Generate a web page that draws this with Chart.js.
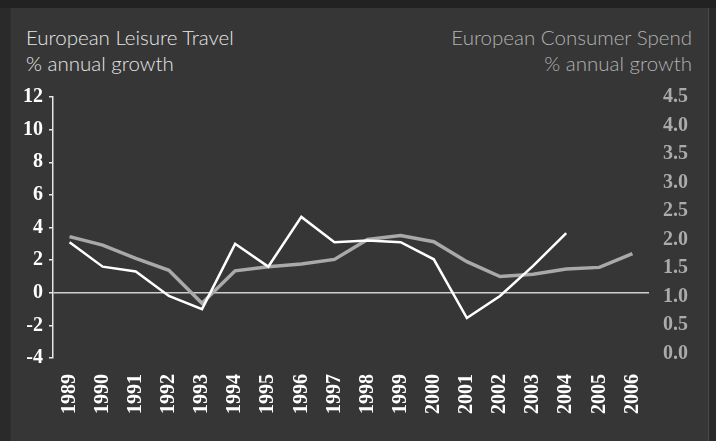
<!DOCTYPE html>
<html>
<head>
<meta charset="utf-8">
<script src="https://cdn.jsdelivr.net/npm/chart.js@4/dist/chart.umd.min.js"></script>
<style>
  html, body { margin: 0; padding: 0; }
  body { width: 716px; height: 441px; background: #2a2a2a; position: relative; overflow: hidden; }
  #topbar { position: absolute; left: 0; top: 0; width: 716px; height: 8px; background: #222222; }
  #panel { position: absolute; left: 10px; top: 8px; width: 699px; height: 433px; background: #363636; border-left: 1px solid #303030; border-right: 1px solid #4a4a4a; box-sizing: border-box; }
  .ttl { position: absolute; font-family: Lato, "Open Sans", sans-serif; font-weight: 300; font-size: 20.5px; line-height: 26px; }
  #ttlLeft { left: 26px; top: 24px; color: #e6e6e6; }
  #ttlRight { right: 24px; top: 24px; color: #b2b2b2; text-align: right; }
  #grafik { position: absolute; left: 0; top: 0; }
</style>
</head>
<body>
<div id="topbar"></div>
<div id="panel"></div>
<div class="ttl" id="ttlLeft">European Leisure Travel<br>% annual growth</div>
<div class="ttl" id="ttlRight">European Consumer Spend<br>% annual growth</div>
<canvas id="grafik" width="716" height="441"></canvas>
<script>
// ===== data =====
const years = ['1989','1990','1991','1992','1993','1994','1995','1996','1997',
               '1998','1999','2000','2001','2002','2003','2004','2005','2006'];
// European Leisure Travel, % annual growth (left axis)
const leisureTravel = [3.1, 1.6, 1.3, -0.2, -1.0, 3.0, 1.6, 4.65, 3.1,
                       3.2, 3.1, 2.05, -1.55, -0.2, 1.65, 3.65, null, null];
// European Consumer Spend, % annual growth (right axis)
const consumerSpend = [2.05, 1.9, 1.67, 1.46, 0.88, 1.45, 1.52, 1.57, 1.65,
                       2.0, 2.07, 1.96, 1.61, 1.35, 1.39, 1.48, 1.51, 1.75];
const leftTicks = [-4, -2, 0, 2, 4, 6, 8, 10, 12];
const rightTicks = [0.0, 0.5, 1.0, 1.5, 2.0, 2.5, 3.0, 3.5, 4.0, 4.5];

// ===== chart =====
const tickFont = { family: '"Liberation Serif", "Times New Roman", serif', size: 20, weight: 'bold' };
const ctx = document.getElementById('grafik').getContext('2d');
const chart = new Chart(ctx, {
  type: 'line',
  data: {
    labels: years,
    datasets: [{
      label: 'European Leisure Travel',
      data: leisureTravel,
      yAxisID: 'y',
      borderColor: '#ffffff',
      borderWidth: 2.5,
      pointRadius: 0,
      tension: 0,
      spanGaps: false
    }, {
      label: 'European Consumer Spend',
      data: consumerSpend,
      yAxisID: 'y1',
      borderColor: '#a9a9a9',
      borderWidth: 3.5,
      pointRadius: 0,
      tension: 0
    }]
  },
  options: {
    responsive: false,
    animation: false,
    layout: { padding: { top: 97, left: 0, right: 0, bottom: 0 } },
    plugins: { legend: { display: false }, tooltip: { enabled: false } },
    scales: {
      x: {
        offset: true,
        grid: { display: false, drawTicks: false },
        border: { display: false },
        ticks: { color: '#ffffff', font: tickFont, minRotation: 90, maxRotation: 90, padding: 16, autoSkip: false },
        afterFit: s => { s.height = 83; }
      },
      y: {
        position: 'left',
        min: -4, max: 12,
        afterBuildTicks: s => { s.ticks = leftTicks.map(v => ({ value: v })); },
        border: { display: true, color: '#e6e6e6', width: 1.5 },
        grid: {
          drawOnChartArea: true,
          color: c => (c.tick && c.tick.value === 0) ? '#cfcfcf' : 'rgba(0,0,0,0)',
          lineWidth: 1.5,
          tickColor: '#e6e6e6',
          tickLength: 4
        },
        ticks: { color: '#ffffff', font: tickFont, padding: 6 },
        afterFit: s => { s.width = 53; }
      },
      y1: {
        position: 'right',
        min: -0.08, max: 4.5,
        afterBuildTicks: s => { s.ticks = rightTicks.map(v => ({ value: v })); },
        border: { display: false },
        grid: { display: false, drawTicks: false },
        ticks: { color: '#ababab', font: tickFont, padding: 14, callback: v => Number(v).toFixed(1) },
        afterFit: s => { s.width = 67; }
      }
    }
  }
});
</script>
</body>
</html>
